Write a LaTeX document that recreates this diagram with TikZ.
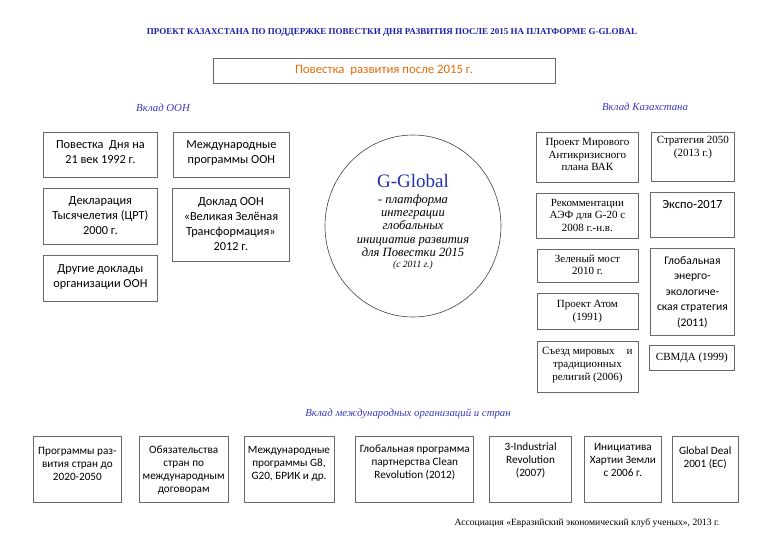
\documentclass[tikz,border=0pt]{standalone}
\usepackage{fontspec}
\setmainfont{Liberation Serif}
\newfontfamily\calfont{Carlito}
\usepackage{tikz}
\usetikzlibrary{positioning,shapes.geometric}
\definecolor{titleblue}{RGB}{30,30,170}
\definecolor{labelblue}{RGB}{55,55,190}
\definecolor{gblue}{RGB}{35,50,170}
\definecolor{agendaorange}{RGB}{228,108,10}
\definecolor{frame}{RGB}{105,105,105}
\newcommand{\boxtext}[4][16]{\parbox[t][#3pt][t]{#2pt}{\centering\rule{0pt}{#1pt}#4}}

\begin{document}
\begin{tikzpicture}[x=1pt, y=-1pt,
    item/.style={draw=frame, line width=0.8pt, inner sep=0pt, anchor=north west},
    calbox/.style={item, font=\calfont\fontsize{12.3}{15}\selectfont},
    serifbox/.style={item, font=\fontsize{11}{12.7}\selectfont},
    smallbox/.style={item, font=\calfont\fontsize{11.2}{13}\selectfont},
    section/.style={font=\itshape\fontsize{10.8}{12}\selectfont, text=labelblue}]
    \useasboundingbox (0,0) rectangle (768,544);

    \node [font=\bfseries\fontsize{9}{10}\selectfont, text=titleblue] (title) at (392,32) {ПРОЕКТ КАЗАХСТАНА ПО ПОДДЕРЖКЕ ПОВЕСТКИ ДНЯ РАЗВИТИЯ ПОСЛЕ 2015 НА ПЛАТФОРМЕ G-GLOBAL};
    \node [draw=frame, line width=0.9pt, minimum width=342pt, minimum height=25pt, font=\calfont\fontsize{12.8}{14}\selectfont, text=agendaorange] (agenda) at (384,70.5) {Повестка\ \ развития после 2015 г.};

    \node [section] (un_label) at (163,108) {Вклад ООН};
    \node [section] (kz_label) at (645,107) {Вклад Казахстана};

    \node [calbox] (agenda_21) at (43,132) {\boxtext{114}{45}{Повестка\ \ Дня на\\21 век 1992 г.}};
    \node [calbox] (un_programs) at (173,132) {\boxtext{116}{45}{Международные\\программы ООН}};
    \node [calbox, below=10pt of agenda_21] (millennium) {\boxtext{114}{56}{Декларация\\Тысячелетия (ЦРТ)\\2000 г.}};
    \node [calbox] (green_transformation) at (172,188) {\boxtext[17]{117}{73}{Доклад ООН\\«Великая Зелёная\\Трансформация»\\2012 г.}};
    \node [calbox, below=10pt of millennium] (other_reports) {\boxtext[17.5]{114}{46}{Другие доклады\\организации ООН}};

    \node [ellipse, draw=black!75, line width=0.6pt, minimum width=176pt, minimum height=182pt, inner sep=0pt] (g_global) at (413,226) {};
    \node [align=center, font=\itshape\fontsize{12.6}{13.2}\selectfont] (g_global_text) at ([yshift=4pt]g_global.center) {{\upshape\fontsize{19}{19}\selectfont\color{gblue}G-Global}\\[3pt]- платформа\\интеграции\\глобальных\\инициатив развития\\для Повестки 2015\\[-1.5pt]{\fontsize{9.5}{11}\selectfont(с 2011 г.)}};

    \node [serifbox] (anticrisis_plan) at (536,132) {\boxtext[13]{102}{50}{Проект Мирового\\Антикризисного\\плана ВАК}};
    \node [serifbox] (strategy_2050) at (651,132) {\boxtext[11.5]{83}{49}{Стратегия 2050\\(2013 г.)}};
    \node [serifbox, below=10pt of anticrisis_plan] (aef_g20) {\boxtext[13]{102}{45}{Рекомментации\\АЭФ для G-20 с\\2008 г.-н.в.}};
    \node [calbox, font=\calfont\fontsize{12.5}{15}\selectfont] (expo_2017) at (650,192) {\boxtext{84}{45}{Экспо-2017}};
    \node [serifbox, below=10pt of aef_g20] (green_bridge) {\boxtext[13]{101}{33}{Зеленый мост\\2010 г.}};
    \node [serifbox, below=11pt of green_bridge] (atom_project) {\boxtext[14]{101}{36}{Проект Атом\\(1991)}};
    \node [calbox, font=\calfont\fontsize{11.6}{15.5}\selectfont] (energy_strategy) at (650,248) {\boxtext{84}{87}{Глобальная\\энерго-\\экологиче-\\ская стратегия\\(2011)}};
    \node [serifbox, below=11pt of atom_project] (religions) {\boxtext[13]{101}{51}{Съезд мировых\hspace{12pt}и\\традиционных\\религий (2006)}};
    \node [serifbox] (cica) at (649,345) {\boxtext[15.5]{85}{25}{СВМДА (1999)}};

    \node [section] (intl_label) at (408,414) {Вклад международных организаций и стран};

    \node [smallbox] (dev_programs) at (33,436) {\boxtext[18]{88}{66}{Программы раз-\\вития стран до\\2020-2050}};
    \node [smallbox, right=17pt of dev_programs] (obligations) {\boxtext[17.5]{89}{66}{Обязательства\\стран по\\международным\\договорам}};
    \node [smallbox, right=15pt of obligations] (g8_programs) {\boxtext[17.5]{90}{66}{Международные\\программы G8,\\G20, БРИК и др.}};
    \node [smallbox, right=21pt of g8_programs] (clean_revolution) {\boxtext[16.5]{118}{66}{Глобальная программа\\партнерства Clean\\Revolution (2012)}};
    \node [smallbox, right=15pt of clean_revolution] (industrial_revolution) {\boxtext[14.5]{82}{66}{3-Industrial\\Revolution\\(2007)}};
    \node [smallbox, right=12pt of industrial_revolution] (earth_charter) {\boxtext[14.5]{77}{66}{Инициатива\\Хартии Земли\\с 2006 г.}};
    \node [smallbox, right=10pt of earth_charter] (global_deal) {\boxtext[18]{66}{66}{Global Deal\\2001 (ЕС)}};

    \node [font=\fontsize{9.6}{11}\selectfont] (footer) at (587,523) {Ассоциация «Евразийский экономический клуб ученых», 2013 г.};
\end{tikzpicture}
\end{document}
